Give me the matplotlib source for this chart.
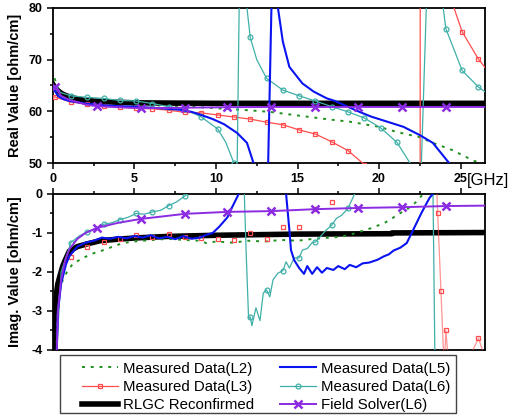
import matplotlib
matplotlib.use("Agg")
import matplotlib.pyplot as plt
from matplotlib.ticker import MultipleLocator
from matplotlib.lines import Line2D
from matplotlib.patches import Rectangle

plt.rcParams['font.family'] = ['Liberation Sans', 'DejaVu Sans']

# ---- real part [ohm/cm] vs frequency [GHz] ----
f_l2_re = [0.1, 0.3, 0.6, 1.0, 2.0, 3.0, 5.0, 8.0, 10.0, 12.0, 13.3, 15.0, 17.0, 18.2, 20.0, 21.1, 22.5, 23.3, 24.5, 25.7, 26.5]
re_l2 = [66.4, 64.5, 63.5, 62.8, 62.0, 61.7, 61.3, 61.0, 60.6, 60.2, 59.9, 59.2, 58.4, 58.0, 57.0, 56.0, 55.0, 53.9, 52.5, 50.6, 49.6]

f_l3_re = [0.1, 1.1, 2.1, 3.1, 4.1, 5.1, 6.1, 7.1, 8.1, 9.1, 10.1, 11.1, 12.1, 13.1, 14.1, 15.1, 16.1, 17.1,
           18.1, 19.1, 20.1, 21.1, 22.0, 22.4, 22.5, 22.55, 22.6, 23.0, 23.5, 24.1, 24.6, 25.1, 26.1, 26.5]
re_l3 = [62.8, 61.8, 61.4, 61.0, 60.8, 60.6, 60.5, 60.2, 59.8, 59.7, 59.3, 58.9, 58.5, 57.9, 57.4, 56.4, 55.6, 54.1,
         52.4, 49.7, 45.0, 38.0, 20.0, -50.0, -300.0, 400.0, 250.0, 130.0, 100.0, 86.0, 80.0, 75.4, 70.1, 68.5]

f_l5_re = [0.0, 0.3, 0.6, 1.0, 2.0, 3.0, 4.0, 5.0, 6.0, 7.0, 7.8, 8.5, 9.0, 9.8, 10.5, 11.3, 11.9, 12.3, 12.6, 13.0,
           13.2, 13.4, 13.6, 13.8, 14.1, 14.5, 15.3, 16.0, 16.8, 17.3, 18.0, 18.8, 19.5, 20.2, 21.5, 22.5, 23.3, 24.3, 24.8]
re_l5 = [64.5, 63.0, 62.4, 62.0, 61.5, 61.2, 61.0, 60.9, 60.7, 60.5, 60.3, 59.9, 59.4, 58.5, 57.5, 55.8, 53.9, 50.0, 45.0, 30.0,
         50.0, 80.0, 110.0, 80.0, 73.5, 68.6, 65.4, 63.8, 62.5, 62.0, 61.0, 59.9, 59.0, 58.3, 57.0, 55.4, 53.9, 50.0, 48.0]

f_l6_re = [0.0, 0.1, 0.5, 1.1, 2.1, 3.1, 4.1, 5.1, 6.1, 7.1, 8.1, 9.1, 10.1, 10.6, 11.1, 11.2, 11.3, 11.42, 11.5, 11.8,
           11.9, 12.1, 12.5, 13.1, 14.1, 15.1, 16.1, 17.1, 18.1, 19.1, 20.1, 21.1, 21.9, 22.3, 22.5, 22.6, 22.9, 23.0,
           23.3, 23.9, 24.1, 25.1, 26.1, 26.5]
re_l6 = [65.0, 64.5, 63.6, 63.0, 62.7, 62.5, 62.1, 62.0, 61.5, 60.9, 60.4, 58.9, 56.6, 54.0, 50.0, 40.0, 50.0, 80.0, 130.0, 95.0,
         80.0, 74.3, 70.0, 66.4, 64.1, 63.0, 62.0, 60.9, 59.9, 58.7, 56.8, 54.0, 50.0, 40.0, 20.0, 50.0, 80.0, 150.0,
         120.0, 81.0, 76.0, 67.9, 64.7, 63.8]

f_rlgc_re = [0.0, 0.1, 0.2, 0.3, 0.5, 0.75, 1.0, 1.5, 2.0, 3.0, 4.0, 5.0, 7.0, 10.0, 15.0, 20.0, 26.5]
re_rlgc = [65.2, 64.7, 64.3, 64.0, 63.5, 63.1, 62.8, 62.4, 62.1, 61.9, 61.75, 61.65, 61.6, 61.55, 61.55, 61.55, 61.55]

f_fs_re = [0.1, 0.5, 1.0, 1.5, 2.0, 2.7, 4.0, 5.4, 8.1, 10.7, 13.4, 16.1, 18.7, 21.4, 24.1, 26.5]
re_fs = [64.8, 63.0, 62.2, 61.8, 61.3, 61.0, 60.8, 60.6, 60.7, 60.8, 60.85, 60.85, 60.85, 60.85, 60.85, 60.85]

# ---- imaginary part [ohm/cm] ----
f_l2_im = [0.2, 0.25, 0.43, 0.6, 0.86, 1.2, 1.84, 2.5, 3.1, 4.0, 4.7, 5.5, 6.5, 7.0, 8.0, 9.0, 9.4, 10.0, 11.0, 12.0,
           13.0, 14.0, 15.0, 16.0, 17.0, 17.6, 18.2, 18.8, 19.5, 20.3, 20.7, 21.1, 21.7, 22.3, 22.7, 23.0]
im_l2 = [-4.5, -3.3, -2.46, -2.2, -2.0, -1.8, -1.64, -1.52, -1.44, -1.3, -1.23, -1.2, -1.17, -1.15, -1.18, -1.2, -1.26, -1.22, -1.25, -1.2,
         -1.22, -1.18, -1.2, -1.15, -1.12, -1.1, -1.05, -0.97, -0.88, -0.75, -0.66, -0.54, -0.4, -0.2, 0.0, 0.3]

f_l3_im = [0.1, 1.1, 2.1, 3.1, 4.1, 5.1, 6.1, 7.1, 8.1, 9.1, 10.1, 11.1, 12.1, 13.1, 14.1, 15.1, 16.1, 17.1, 18.1,
           19.1, 20.1, 21.1, 22.1, 23.1, 23.5, 23.6, 23.8, 24.0, 24.1, 24.3, 25.1, 26.1, 26.5]
im_l3 = [-5.0, -1.62, -1.37, -1.24, -1.15, -1.05, -1.1, -1.03, -1.1, -1.12, -1.15, -1.18, -1.0, -1.15, -0.84, -0.84, -0.39, -0.21, 0.3,
         0.6, 1.0, 1.5, 2.0, 3.0, 0.5, -0.5, -2.5, -4.5, -3.5, -4.5, -4.6, -3.7, -4.2]

f_l5_im = [0.1, 0.3, 0.5, 0.8, 1.0, 1.5, 2.0, 2.5, 3.0, 3.5, 4.0, 4.5, 5.0, 5.5, 6.0, 6.5, 7.0, 7.5, 8.0, 8.5, 9.0,
           9.4, 9.8, 10.2, 10.7, 11.0, 11.3, 11.5, 12.5, 14.0, 14.3, 14.5, 14.6, 14.8, 15.1, 15.4, 15.6, 15.9, 16.2,
           16.5, 16.8, 17.2, 17.5, 17.9, 18.2, 18.6, 19.0, 19.4, 19.9, 20.3, 20.6, 20.9, 21.3, 21.7, 22.1, 22.6,
           23.1, 23.3, 23.6]
im_l5 = [-6.0, -3.0, -2.3, -1.8, -1.6, -1.35, -1.25, -1.2, -1.12, -1.15, -1.1, -1.14, -1.08, -1.12, -1.06, -1.14, -1.1, -1.16, -1.08, -1.15, -1.12,
         -1.05, -1.0, -0.84, -0.6, -0.33, -0.08, 0.1, 0.8, 0.6, 0.0, -0.92, -1.44, -1.7, -1.9, -2.05, -1.85, -2.05, -1.88,
         -2.02, -1.9, -1.95, -1.85, -1.93, -1.82, -1.88, -1.78, -1.76, -1.69, -1.6, -1.55, -1.45, -1.38, -1.26, -0.92, -0.49,
         -0.1, 0.0, 0.3]

f_l6_im = [0.1, 0.5, 1.1, 1.6, 2.1, 2.6, 3.1, 3.6, 4.1, 4.6, 5.1, 5.6, 6.1, 6.6, 7.1, 7.6, 8.1, 8.4, 9.0, 11.0, 11.7,
           11.85, 12.0, 12.1, 12.2, 12.45, 12.7, 12.9, 13.1, 13.3, 13.5, 13.8, 14.1, 14.3, 14.5, 14.8, 15.1, 15.3,
           15.6, 15.9, 16.1, 16.4, 16.7, 17.1, 17.4, 17.7, 18.1, 18.5, 19.0, 23.0, 23.3, 23.45]
im_l6 = [-5.0, -2.0, -1.25, -1.08, -0.97, -0.9, -0.78, -0.74, -0.66, -0.6, -0.5, -0.52, -0.46, -0.42, -0.3, -0.2, -0.05, 0.05, 0.5, 1.0, 0.5,
         -1.5, -3.2, -3.15, -3.38, -2.92, -3.25, -2.54, -2.46, -2.64, -2.2, -2.03, -1.97, -1.74, -1.9, -1.64, -1.64, -1.44,
         -1.4, -1.25, -1.23, -1.1, -0.95, -0.8, -0.62, -0.55, -0.37, 0.0, 0.4, 1.0, 0.5, -5.0]

f_rlgc_im = [0.08, 0.12, 0.17, 0.23, 0.3, 0.43, 0.6, 0.75, 1.0, 1.5, 2.1, 2.9, 4.0, 5.0, 7.0, 10.0, 15.0, 20.8, 20.8, 26.5]
im_rlgc = [-4.2, -3.5, -2.9, -2.5, -2.3, -2.1, -1.85, -1.7, -1.47, -1.35, -1.28, -1.2, -1.16, -1.13, -1.09, -1.06, -1.03, -1.02, -1.0, -0.99]

f_fs_im = [0.1, 0.3, 0.5, 0.75, 1.0, 1.5, 2.0, 2.7, 4.0, 5.4, 8.1, 10.7, 13.4, 16.1, 18.7, 21.4, 24.1, 26.5]
im_fs = [-6.0, -3.0, -2.2, -1.7, -1.42, -1.15, -1.0, -0.87, -0.74, -0.64, -0.51, -0.46, -0.44, -0.39, -0.36, -0.34, -0.31, -0.3]

# marker positions (GHz)
meas_marks = [0.1, 1.1, 2.1, 3.1, 4.1, 5.1, 6.1, 7.1, 8.1, 9.1, 10.1, 11.1, 12.1, 13.1, 14.1, 15.1, 16.1, 17.1,
              18.1, 19.1, 20.1, 21.1, 22.1, 23.1, 24.1, 25.1, 26.1]
fs_marks = [0.1, 2.7, 5.4, 8.1, 10.7, 13.4, 16.1, 18.7, 21.4, 24.1]

labels = ['Measured Data(L2)', 'Measured Data(L3)', 'RLGC Reconfirmed',
          'Measured Data(L5)', 'Measured Data(L6)', 'Field Solver(L6)']

C_L2 = '#1f8f1f'
C_L3 = '#ff4d4d'
C_L5 = '#0a14f0'
C_L6 = '#3fb0a8'
C_FS = '#8b2be2'


def marks(freqs, grid):
    return [i for i, f in enumerate(freqs) if any(abs(f - g) < 1e-6 for g in grid)]


fig = plt.figure(figsize=(5.12, 4.18), dpi=100)
ax1 = fig.add_axes([0.1035, 0.610, 0.8437, 0.371])
ax2 = fig.add_axes([0.1035, 0.163, 0.8437, 0.373])

l2 = dict(color=C_L2, lw=1.4, ls=(0, (1.5, 3)))
l3 = dict(color=C_L3, lw=0.9, marker='s', ms=3.5, mfc='none', mew=0.9)
l5 = dict(color=C_L5, lw=1.5)
l6 = dict(color=C_L6, lw=0.9, marker='o', ms=3.5, mfc='none', mew=0.9)
rl = dict(color='black', lw=4)
fs = dict(color=C_FS, lw=1.4, marker='x', ms=6, mew=1.8)

# real part
ax1.plot(f_rlgc_re, re_rlgc, zorder=2, **rl)
ax1.plot(f_l2_re, re_l2, zorder=1.5, **l2)
ax1.plot(f_l3_re, re_l3, markevery=marks(f_l3_re, meas_marks), zorder=3, **l3)
ax1.plot(f_l6_re, re_l6, markevery=marks(f_l6_re, meas_marks), zorder=3, **l6)
ax1.plot(f_l5_re, re_l5, zorder=3, **l5)
ax1.plot(f_fs_re, re_fs, markevery=marks(f_fs_re, fs_marks), zorder=3, **fs)

# imaginary part
ax2.plot(f_rlgc_im, im_rlgc, zorder=2, **rl)
ax2.plot(f_l2_im, im_l2, zorder=2.5, **l2)
ax2.plot(f_l3_im, im_l3, ls='none', color=C_L3, marker='s', ms=3.5, mfc='none', mew=0.9, zorder=3)
pole = f_l3_im.index(23.1)
ax2.plot(f_l3_im[pole:], im_l3[pole:], color=C_L3, lw=0.9, alpha=0.6, zorder=3)
ax2.plot(f_l6_im, im_l6, markevery=marks(f_l6_im, meas_marks), zorder=3, **l6)
ax2.plot(f_l5_im, im_l5, zorder=3, **l5)
ax2.plot(f_fs_im, im_fs, markevery=marks(f_fs_im, fs_marks), zorder=3, **fs)

ax1.set_xlim(0, 26.5)
ax1.set_ylim(50, 80)
ax2.set_xlim(0, 26.5)
ax2.set_ylim(-4, 0)

for ax in (ax1, ax2):
    for sp in ax.spines.values():
        sp.set_linewidth(1.3)
    ax.xaxis.set_major_locator(MultipleLocator(5))
    ax.xaxis.set_minor_locator(MultipleLocator(2.5))
    ax.tick_params(which='both', direction='out', width=1.1, labelsize=9)
    ax.tick_params(which='major', length=4)
    ax.tick_params(which='minor', length=2.5)
    for lab in ax.get_xticklabels() + ax.get_yticklabels():
        lab.set_fontweight('bold')

ax1.yaxis.set_major_locator(MultipleLocator(10))
ax1.yaxis.set_minor_locator(MultipleLocator(5))
ax2.yaxis.set_major_locator(MultipleLocator(1))
ax2.yaxis.set_minor_locator(MultipleLocator(0.5))
ax2.xaxis.set_ticks_position('top')
ax2.tick_params(axis='x', which='both', labeltop=False, labelbottom=False)
ax2.set_yticks([0, -1, -2, -3, -4])
ax2.set_yticklabels(['0', '-1', '-2', '-3', '-4'], fontweight='bold')

fig.text(0.029, 0.795, 'Real Value [ohm/cm]', rotation=90, ha='center', va='center',
         fontsize=10.5, fontweight='bold')
fig.text(0.029, 0.35, 'Imag. Value [ohm/cm]', rotation=90, ha='center', va='center',
         fontsize=10.5, fontweight='bold')
fig.text(0.912, 0.569, '[GHz]', ha='left', va='center', fontsize=12)

# legend box drawn separately so the entries can sit off-centre in it
fig.patches.append(Rectangle((0.117, 0.012), 0.773, 0.139, transform=fig.transFigure,
                             fill=False, edgecolor='#444444', linewidth=1.0))

handles = [
    Line2D([], [], **l2),
    Line2D([], [], **l3),
    Line2D([], [], **rl),
    Line2D([], [], **l5),
    Line2D([], [], **l6),
    Line2D([], [], **fs),
]
fig.legend(handles, labels, loc='upper left', bbox_to_anchor=(0.160, 0.135),
           ncol=2, fontsize=10.8, handlelength=2.4, handletextpad=0.35,
           borderaxespad=0, borderpad=0, frameon=False, labelspacing=0.28,
           columnspacing=1.7)

fig.savefig('out.png', dpi=100)
